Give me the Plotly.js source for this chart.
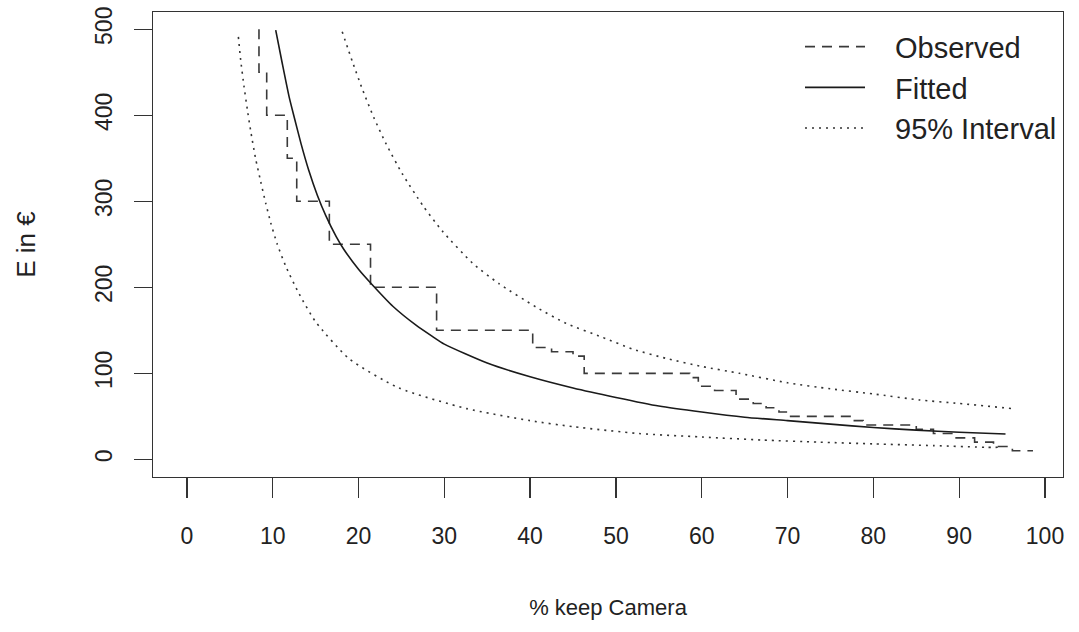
<!DOCTYPE html>
<html>
<head>
<meta charset="utf-8">
<script src="https://cdn.plot.ly/plotly-3.0.1.min.js"></script>
<style>html,body{margin:0;padding:0;background:#fff;} #chart{width:1079px;height:632px;}</style>
</head>
<body>
<div id="chart"></div>
<script>
// Observed step function: level ends (% keep camera) and price levels (E in €)
const observedPct = [8.4, 9.3, 11.7, 12.8, 16.6, 21.4, 29.1, 40.3, 42.5, 45.0, 46.3, 58.6, 59.6, 61.5, 64.0, 66.0, 67.5, 69.0, 70.0, 77.6, 78.8, 85.0, 87.0, 89.5, 91.8, 94.0, 96.2, 98.6];
const observedE   = [500, 450, 400, 350, 300, 250, 200, 150, 130, 125, 120, 100, 95, 85, 80, 70, 65, 60, 55, 50, 45, 40, 35, 30, 25, 20, 15, 10];

// Fitted curve
const fittedPct = [10.35, 11.1, 11.9, 12.5, 13.3, 14.2, 15.2, 16.2, 17.4, 18.3, 20, 21.6, 24, 26.7, 28.6, 30, 35, 40, 45, 50, 55, 60, 65, 70, 75, 80, 85, 90, 95.4];
const fittedE   = [499, 461, 422, 398, 367, 336, 307, 283, 259, 244, 221, 203, 178, 156, 143, 134, 112, 96, 83, 72, 62, 55, 49, 45, 41, 37, 34, 31.5, 29.5];

// 95% interval, lower bound
const lowerPct = [6.0, 6.27, 6.65, 7.04, 7.43, 8.0, 8.6, 9.18, 9.77, 10.5, 11.5, 13.1, 15.0, 18.9, 24.7, 32.6, 40, 45, 52.7, 60, 67, 73.7, 80, 87, 93.2, 94.5];
const lowerE   = [491, 464, 434, 407, 382, 350, 323, 298, 275, 251, 225, 192, 160, 117, 83, 59, 45, 38, 30, 26, 22.5, 20, 18, 16, 14, 14];

// 95% interval, upper bound
const upperPct = [18.1, 19.3, 20.5, 21.8, 23.2, 25.1, 27.5, 29.8, 33.3, 36.4, 40.7, 44.2, 48.4, 52, 56, 60, 64.4, 70, 75, 80, 85.4, 90, 96.2];
const upperE   = [497, 462, 429, 397, 367, 332, 295, 265, 228, 204, 177, 158, 142, 128, 117, 108, 100, 89, 82, 76, 69, 65, 59];

const xTicks = [0, 10, 20, 30, 40, 50, 60, 70, 80, 90, 100];
const yTicks = [0, 100, 200, 300, 400, 500];

const FONT = '"Liberation Sans", Arial, Helvetica, sans-serif';

const dotted = {shape: 'spline', smoothing: 0.6, color: '#333', width: 1.6, dash: '2px,5px'};

const traces = [
  {x: observedPct, y: observedE, name: 'Observed', mode: 'lines', legendgroup: 'a',
   line: {shape: 'vh', color: '#3a3a3a', width: 1.6, dash: '10px,7px'}},
  {x: fittedPct, y: fittedE, name: 'Fitted', mode: 'lines', legendgroup: 'b',
   line: {shape: 'spline', smoothing: 0.6, color: '#1a1a1a', width: 1.6}},
  {x: lowerPct, y: lowerE, name: '95% Interval', mode: 'lines', legendgroup: 'c', line: dotted},
  {x: upperPct, y: upperE, name: '95% Interval', mode: 'lines', legendgroup: 'c', showlegend: false, line: dotted}
];

const layout = {
  width: 1079, height: 632,
  margin: {l: 153, r: 16, t: 12, b: 155},
  paper_bgcolor: '#fff', plot_bgcolor: '#fff',
  font: {family: FONT, size: 21, color: '#222'},
  showlegend: true,
  legend: {x: (800 - 153) / 910, xanchor: 'left', y: 0.98, yanchor: 'top', bgcolor: 'rgba(0,0,0,0)',
           borderwidth: 0, font: {size: 29, color: '#222'}, tracegroupgap: 0, itemwidth: 85},
  xaxis: {
    range: [-3.95, 102.1], tickmode: 'array', tickvals: xTicks, ticktext: xTicks.map(String),
    tickfont: {size: 23, color: '#222'},
    ticks: 'outside', ticklen: 20, tickwidth: 1.3, tickcolor: '#333', ticklabelstandoff: 18,
    showline: true, mirror: true, linecolor: '#333', linewidth: 1.3,
    showgrid: false, zeroline: false,
    title: {text: '% keep Camera', font: {size: 22, color: '#222'}, standoff: 51}
  },
  yaxis: {
    range: [-20.5, 520], tickmode: 'array', tickvals: yTicks, ticktext: yTicks.map(String),
    tickfont: {size: 23, color: '#222'},
    tickangle: -90, ticks: 'outside', ticklen: 18, tickwidth: 1.3, tickcolor: '#333', ticklabelstandoff: 13,
    showline: true, mirror: true, linecolor: '#333', linewidth: 1.3,
    showgrid: false, zeroline: false,
    title: {text: 'E in €', font: {size: 26, color: '#222'}, standoff: 47}
  }
};

Plotly.newPlot('chart', traces, layout, {displayModeBar: false, staticPlot: true}).then(function () {
  // shorten legend line samples to leave a gap before the label, as in the reference
  document.querySelectorAll('.legend .legendlines path').forEach(function (p) {
    p.setAttribute('d', 'M5,0h60');
  });
});
</script>
</body>
</html>
